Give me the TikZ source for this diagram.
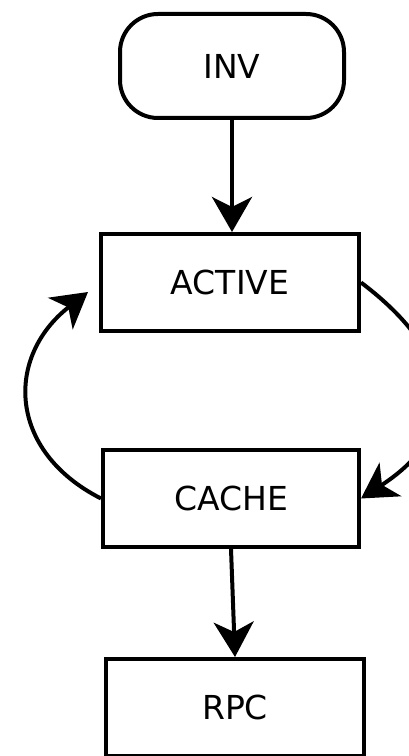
\documentclass[tikz,border=0pt]{standalone}
\usepackage{fontspec}
\setmainfont{DejaVu Sans}
\usetikzlibrary{arrows.meta}

\begin{document}
\begin{tikzpicture}[x=1pt, y=1pt, line width=4pt,
	every node/.style={font=\fontsize{33}{38}\selectfont, inner sep=0pt},
	state/.style={draw, minimum width=258pt, minimum height=97pt},
	terminal/.style={draw, rounded corners=38pt, minimum width=224pt, minimum height=104pt},
	arr/.style={-{Stealth[length=35pt, width=40pt, inset=10pt]}},]

\useasboundingbox (0,0) rectangle (408,756);

\node[terminal] (inv) at (232,690) {INV};
\node[state] (active) at (230,473.5) {ACTIVE};
\node[state, minimum width=256pt] (cache) at (231,257.5) {CACHE};
\node[state] (rpc) at (235,48.5) {RPC};
\coordinate (back) at (88,464);

\draw[arr] (inv.south) -- (active.north -| inv.south);
\draw[arr] (cache.south) -- (rpc.north);
\draw[arr] (cache.west) to[out=153, in=218, looseness=1.3] (back);
\draw[arr] (active.east) to[out=-37, in=33, looseness=1.45] (cache.east);
\end{tikzpicture}
\end{document}
